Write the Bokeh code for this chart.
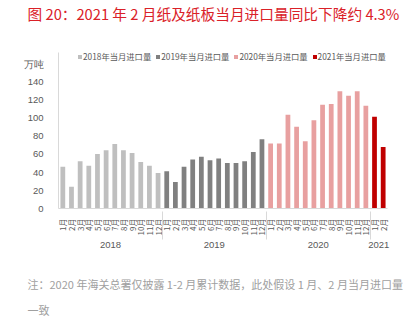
import math
from bokeh.plotting import figure
from bokeh.models import (FactorRange, Range1d, Legend, LegendItem, Title,
                          ColumnDataSource, FixedTicker)
from bokeh.embed import file_html
from bokeh.resources import INLINE

# ---- data ----
years = ["2018", "2019", "2020", "2021"]
months = ["1月", "2月", "3月", "4月", "5月", "6月", "7月", "8月", "9月", "10月", "11月", "12月"]
v2018 = [46, 24, 52, 47, 60, 64, 71, 64, 61, 51, 47, 39]
v2019 = [41, 29, 46, 54, 57, 53, 55, 50, 50, 52, 62, 76]
v2020 = [71.5, 71.5, 103, 90, 74, 97, 114, 115, 129, 124, 129, 113]
v2021 = [101, 67.5]
series_names = ["2018年当月进口量", "2019年当月进口量", "2020年当月进口量", "2021年当月进口量"]
colors = ["#BFBFBF", "#808080", "#E8A0A0", "#C00000"]
y_ticks = [0, 20, 40, 60, 80, 100, 120, 140]
unit_pos = 158.5
title_text = "图 20：2021 年 2 月纸及纸板当月进口量同比下降约 4.3%"
note_line1 = "注：2020 年海关总署仅披露 1-2 月累计数据，此处假设 1 月、2 月当月进口量"
note_line2 = "一致"
unit_text = "万吨"

values = [v2018, v2019, v2020, v2021]
factors = []
for y, vals in zip(years, values):
    for m, _ in zip(months, vals):
        factors.append((y, m))

CJK = "Noto Sans CJK SC"

p = figure(
    x_range=FactorRange(*factors, range_padding=0, group_padding=0),
    y_range=Range1d(0, 171.5),
    width=418, height=323,
    output_backend="svg", toolbar_location=None,
    min_border_left=58, min_border_right=31,
    min_border_top=50, min_border_bottom=115,
)
p.outline_line_color = None
p.xgrid.visible = False
p.ygrid.visible = False
p.background_fill_color = "white"
p.border_fill_color = "white"

renderers = []
for y, vals, c in zip(years, values, colors):
    src = ColumnDataSource(dict(x=[(y, m) for m, _ in zip(months, vals)], top=vals))
    renderers.append(p.vbar(x="x", top="top", width=0.55, source=src,
                            fill_color=c, line_color=None))

p.yaxis.ticker = FixedTicker(ticks=y_ticks + [unit_pos])
p.yaxis.major_label_overrides = {unit_pos: unit_text}
p.yaxis.major_tick_line_color = None
p.yaxis.minor_tick_line_color = None
p.yaxis.axis_line_color = "#D9D9D9"
p.yaxis.major_label_text_font_size = "9.5px"
p.yaxis.major_label_text_color = "#595959"
p.yaxis.major_label_standoff = 9

xa = p.xaxis[0]
xa.major_tick_line_color = None
xa.minor_tick_line_color = None
xa.axis_line_color = "#D9D9D9"
xa.major_label_orientation = math.pi / 2
xa.major_label_text_font = CJK
xa.major_label_text_font_size = "8px"
xa.major_label_text_color = "#595959"
xa.major_label_standoff = 4
xa.group_text_font = "Liberation Sans"
xa.group_text_font_size = "9.5px"
xa.group_text_font_style = "normal"
xa.group_text_color = "#595959"
xa.separator_line_color = "#D9D9D9"
xa.separator_line_width = 1

legend = Legend(
    items=[LegendItem(label=n, renderers=[r]) for n, r in zip(series_names, renderers)],
    orientation="horizontal", location=(19, 146),
    glyph_width=5, glyph_height=5, label_standoff=1, spacing=4,
    padding=0, margin=0, border_line_color=None, background_fill_alpha=0,
    label_text_font=CJK, label_text_font_size="8.3px", label_text_color="#595959",
    label_height=10,
)
p.add_layout(legend)

# spacer above the frame (closest to it), then the main title
p.add_layout(Title(text=" ", align="left", standoff=0,
                   text_font=CJK, text_font_size="19px",
                   text_font_style="normal"), "above")
p.add_layout(Title(text=title_text, align="left", offset=-31, standoff=0,
                   text_font=CJK, text_font_size="14.7px", text_color="#DA2128",
                   text_font_style="normal"), "above")

# spacer below the axis, then the two note lines
p.add_layout(Title(text=" ", align="left", standoff=0,
                   text_font=CJK, text_font_size="10px",
                   text_font_style="normal"), "below")
p.add_layout(Title(text=note_line1, align="left", offset=-31, standoff=10,
                   text_font=CJK, text_font_size="11px", text_color="#A0A0A0",
                   text_font_style="normal"), "below")
p.add_layout(Title(text=note_line2, align="left", offset=-31, standoff=6,
                   text_font=CJK, text_font_size="11px", text_color="#A0A0A0",
                   text_font_style="normal"), "below")

open("out.html", "w").write(file_html(p, INLINE))
